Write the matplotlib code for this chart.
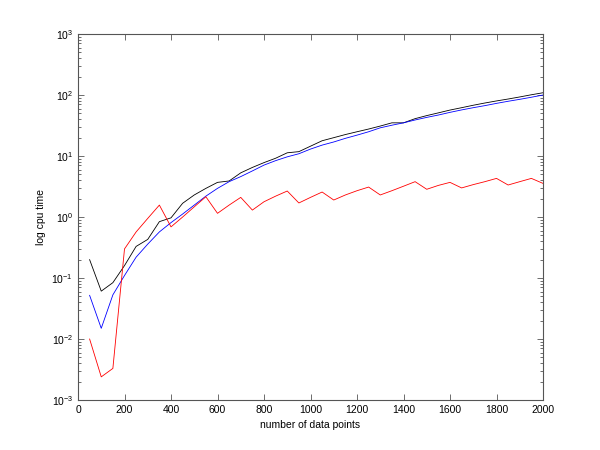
from matplotlib import pyplot as plt
from matplotlib.ticker import LogLocator, NullFormatter
import numpy as np

n_points = np.arange(50, 2001, 50)

black_times = [0.2, 0.061, 0.084, 0.16, 0.33, 0.43, 0.84, 0.97, 1.68, 2.3,
               2.95, 3.7, 3.9, 5.3, 6.5, 7.8, 9.2, 11.3, 11.8, 14.5,
               17.8, 20, 22.5, 25, 27.7, 31, 35, 35, 41, 46,
               51, 56.7, 62, 68, 74, 80, 86, 93, 101, 109]

blue_times = [0.052, 0.015, 0.053, 0.11, 0.22, 0.36, 0.57, 0.81, 1.12, 1.57,
              2.2, 2.95, 3.8, 4.6, 5.7, 7.1, 8.4, 9.7, 10.9, 13.0,
              15.1, 17.0, 19.5, 22, 25, 29, 32, 35, 39, 43,
              47, 52, 57, 62, 67, 73, 79, 85, 92, 100]

red_times = [0.01, 0.0024, 0.0033, 0.30, 0.57, 0.95, 1.57, 0.69, 1.0, 1.47,
             2.15, 1.15, 1.57, 2.1, 1.3, 1.78, 2.2, 2.67, 1.7, 2.1,
             2.57, 1.9, 2.3, 2.7, 3.1, 2.3, 2.7, 3.2, 3.8, 2.85,
             3.3, 3.7, 3.0, 3.4, 3.8, 4.3, 3.35, 3.8, 4.3, 3.56]

x_ticks = [0, 200, 400, 600, 800, 1000, 1200, 1400, 1600, 1800, 2000]

plt.rcParams['font.family'] = ['Liberation Sans', 'DejaVu Sans']
plt.rcParams['font.size'] = 7.5

fig = plt.figure(figsize=(6, 4.5), dpi=100)
ax = fig.add_axes([0.13, 0.111, 0.775, 0.8134])

# thin lines, like the old matlab export
ax.semilogy(n_points, black_times, color='black', linewidth=0.6)
ax.semilogy(n_points, blue_times, color='blue', linewidth=0.6)
ax.semilogy(n_points, red_times, color='red', linewidth=0.6)

ax.set_xlim(0, 2000)
ax.set_ylim(1e-3, 1e3)
ax.set_xticks(x_ticks)
ax.yaxis.set_major_locator(LogLocator(base=10, numticks=10))
ax.yaxis.set_minor_locator(LogLocator(base=10, subs=np.arange(2, 10), numticks=10))
ax.yaxis.set_minor_formatter(NullFormatter())

ax.tick_params(which='both', direction='in', top=True, right=True,
               color='#555555', labelcolor='black')
ax.tick_params(which='major', length=4, width=0.6)
ax.tick_params(which='minor', length=2, width=0.6)
for spine in ax.spines.values():
    spine.set_color('#555555')
    spine.set_linewidth(0.8)

ax.set_xlabel('number of data points')
ax.set_ylabel('log cpu time')

fig.savefig('out.png', dpi=100)
